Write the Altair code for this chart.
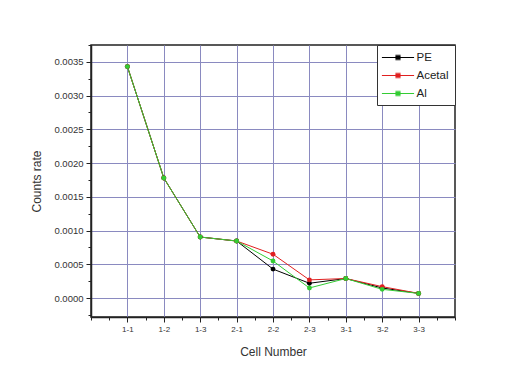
import json
import altair as alt
import pandas as pd

cells = ["1-1", "1-2", "1-3", "2-1", "2-2", "2-3", "3-1", "3-2", "3-3"]
series_names = ["PE", "Acetal", "Al"]
pe = [0.00343, 0.00178, 0.000905, 0.000846, 0.00043, 0.00022, 0.00029, 0.00015, 0.00007]
acetal = [0.00343, 0.00178, 0.000905, 0.000846, 0.00065, 0.00027, 0.00029, 0.00017, 0.00007]
al = [0.00343, 0.00178, 0.000905, 0.000846, 0.00055, 0.00015, 0.00029, 0.00013, 0.00007]
series_colors = ["#000000", "#e02020", "#33cc33"]

rows = []
for name, vals in zip(series_names, [pe, acetal, al]):
    for i, (c, v) in enumerate(zip(cells, vals)):
        rows.append({"idx": i + 1, "cell": c, "series": name, "rate": v})
df = pd.DataFrame(rows)

x_values = [i * 0.5 for i in range(0, 21)]
y_values = [round(-0.00025 + i * 0.00025, 5) for i in range(0, 17)]

FONT = "Liberation Sans"
GRID = "#8a8ac0"

n_cells = len(cells)
x_major = "datum.value % 1 === 0 && datum.value >= 1 && datum.value <= " + str(n_cells)
x_label_expr = "(" + x_major + ") ? " + json.dumps(cells) + "[datum.value - 1] : ''"
y_major = "abs(datum.value * 2000 - round(datum.value * 2000)) < 0.001 && datum.value > -0.0001"

x_enc = alt.X(
    "idx:Q",
    scale=alt.Scale(domain=[0, 10], nice=False, zero=False),
    axis=alt.Axis(
        title="Cell Number",
        values=x_values,
        labelExpr=x_label_expr,
        tickSize={"condition": {"test": x_major, "value": 5}, "value": 3},
        gridOpacity={"condition": {"test": x_major, "value": 1}, "value": 0},
        grid=True, gridColor=GRID, gridWidth=1,
        tickColor="#222222", tickWidth=1,
        domainColor="#222222", domainWidth=1.5,
        labelFont=FONT, labelFontSize=8, labelColor="#333333", labelPadding=3,
        labelFlush=False, labelOverlap=False,
        titleFont=FONT, titleFontSize=12, titleFontWeight="normal", titleColor="#333333",
        titlePadding=13,
    ),
)

y_enc = alt.Y(
    "rate:Q",
    scale=alt.Scale(domain=[-0.00028, 0.00375], nice=False, zero=False),
    axis=alt.Axis(
        title="Counts rate",
        values=y_values,
        labelExpr="(" + y_major + ") ? format(datum.value, '.4f') : ''",
        tickSize={"condition": {"test": y_major, "value": 5}, "value": 3},
        gridOpacity={"condition": {"test": y_major, "value": 1}, "value": 0},
        grid=True, gridColor=GRID, gridWidth=1,
        tickColor="#222222", tickWidth=1,
        domainColor="#222222", domainWidth=1.5,
        labelFont=FONT, labelFontSize=9.5, labelColor="#333333", labelPadding=3,
        labelFlush=False, labelOverlap=False,
        titleFont=FONT, titleFontSize=12, titleFontWeight="normal", titleColor="#333333",
        titlePadding=10,
    ),
)

legend_symbol = "M-2.8,0H2.8M-0.45,-0.4H0.45M-0.45,-0.15H0.45M-0.45,0.15H0.45M-0.45,0.4H0.45"

color_enc = alt.Color(
    "series:N",
    scale=alt.Scale(domain=series_names, range=series_colors),
    legend=alt.Legend(
        title=None,
        orient="top-right",
        offset=0,
        fillColor="white",
        strokeColor="#333333",
        padding=6,
        symbolType=legend_symbol,
        symbolSize=132,
        symbolStrokeWidth=1.1,
        symbolOffset=8.5,
        labelOffset=12,
        rowPadding=6,
        labelFont=FONT,
        labelFontSize=11.5,
        labelColor="#222222",
    ),
)

chart = alt.Chart(df).mark_line(
    strokeWidth=1,
    point=alt.OverlayMarkDef(filled=True, size=24, shape="circle"),
).encode(
    x=x_enc,
    y=y_enc,
    color=color_enc,
    order="idx:Q",
).properties(
    width=364,
    height=272,
    padding={"left": 91, "top": 45, "right": 70, "bottom": 67},
    autosize="none",
    background="white",
).configure_view(
    stroke="#222222",
    strokeWidth=1.5,
)

chart.save("out.html", embed_options={"renderer": "svg", "actions": False})
